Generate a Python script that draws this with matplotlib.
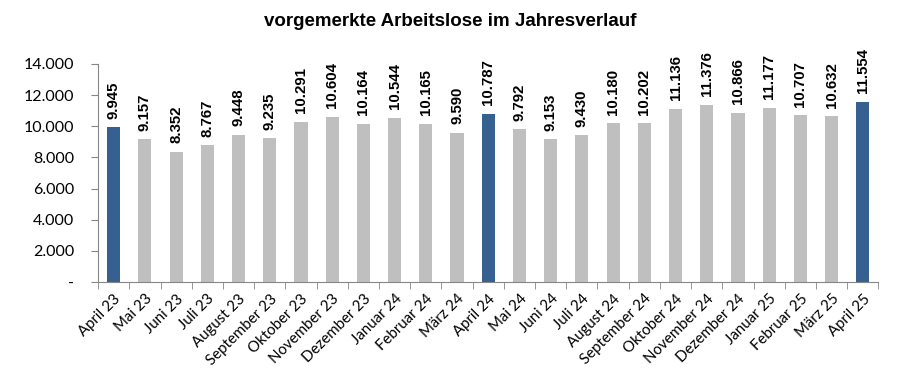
import matplotlib.pyplot as plt
import numpy as np

months = ["April 23", "Mai 23", "Juni 23", "Juli 23", "August 23", "September 23",
          "Oktober 23", "November 23", "Dezember 23", "Januar 24", "Februar 24", "März 24",
          "April 24", "Mai 24", "Juni 24", "Juli 24", "August 24", "September 24",
          "Oktober 24", "November 24", "Dezember 24", "Januar 25", "Februar 25", "März 25",
          "April 25"]
values = [9945, 9157, 8352, 8767, 9448, 9235, 10291, 10604, 10164, 10544, 10165, 9590,
          10787, 9792, 9153, 9430, 10180, 10202, 11136, 11376, 10866, 11177, 10707, 10632,
          11554]
y_ticks = [0, 2000, 4000, 6000, 8000, 10000, 12000, 14000]

blue = "#35608f"
grey = "#bfbfbf"
axis_col = "#868686"

fig = plt.figure(figsize=(9, 3.85), dpi=100)
ax = fig.add_axes([0.109, 0.2675, 0.867, 0.5665])

x = np.arange(len(months))
colors = [blue if m.startswith("April") else grey for m in months]
ax.bar(x, values, width=0.42, color=colors, zorder=2)

# value labels above the bars, turned upright
for xi, v in zip(x, values):
    ax.text(xi, v + 550, f"{v:,}".replace(",", "."), rotation=90, ha="center", va="bottom",
            fontsize=10.8, fontweight="bold", family="Liberation Sans")

ax.set_xlim(-0.5, len(months) - 0.5)
ax.set_ylim(0, 14000)
ax.set_yticks(y_ticks)
ax.set_yticklabels(["-"] + [f"{t:,}".replace(",", ".") for t in y_ticks[1:]],
                   fontsize=11.5, family="Lato")
ax.set_xticks(x)
ax.set_xticklabels(months, rotation=45, ha="right", rotation_mode="anchor",
                   fontsize=10.8, family="Lato")
ax.tick_params(axis="x", length=0, pad=7)
ax.set_xticks(np.arange(-0.5, len(months)), minor=True)
ax.tick_params(axis="x", which="minor", length=5, color=axis_col, direction="out")
ax.tick_params(axis="y", length=5, color=axis_col, pad=12)

for side in ["top", "right"]:
    ax.spines[side].set_visible(False)
for side in ["left", "bottom"]:
    ax.spines[side].set_color(axis_col)

fig.suptitle("vorgemerkte Arbeitslose im Jahresverlauf", y=0.965, fontsize=13.5,
             fontweight="bold", family="Liberation Sans")

fig.savefig("out.png", dpi=100)
